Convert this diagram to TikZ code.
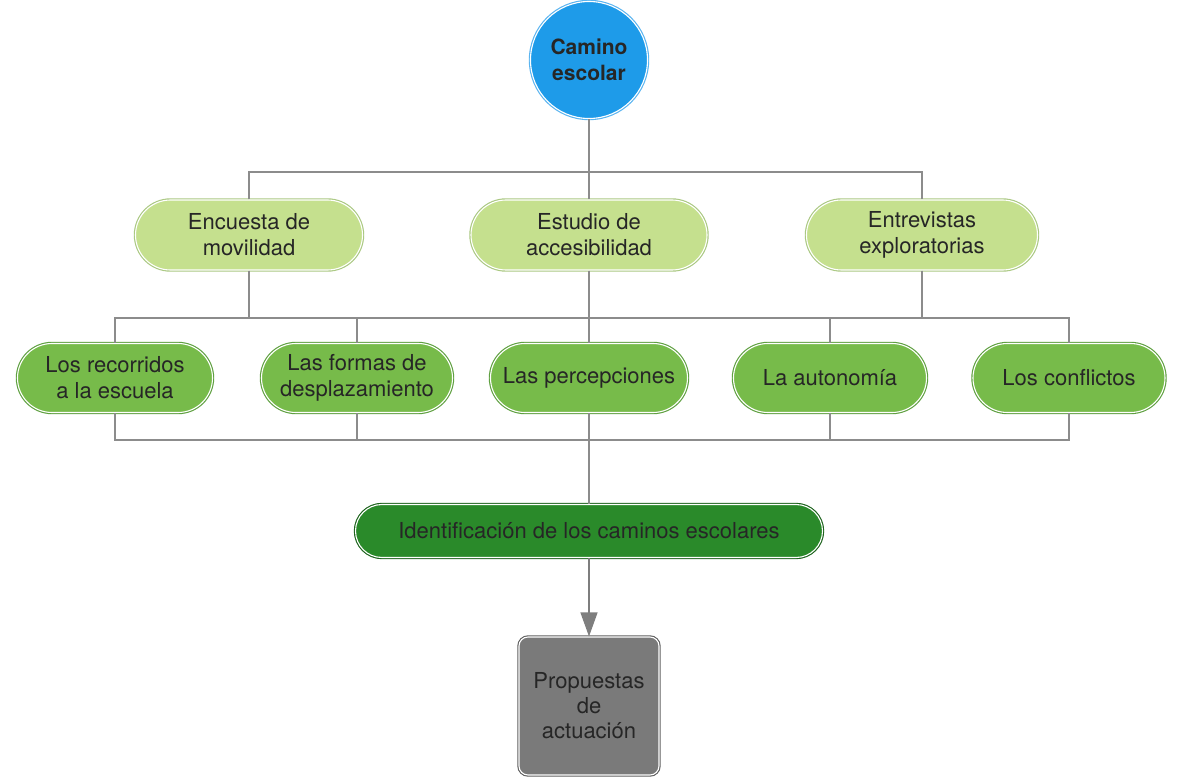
\documentclass[tikz,border=0pt]{standalone}
\usepackage{fontspec}
\setmainfont{TeX Gyre Heros}
\usetikzlibrary{shapes.misc,arrows.meta}

\definecolor{camblue}{RGB}{30,155,233}
\definecolor{camblueline}{RGB}{90,180,240}
\definecolor{lightgreen}{RGB}{197,224,142}
\definecolor{lightgreenline}{RGB}{170,200,130}
\definecolor{midgreen}{RGB}{119,187,74}
\definecolor{midgreenline}{RGB}{95,160,65}
\definecolor{darkgreen}{RGB}{42,138,42}
\definecolor{darkgreenline}{RGB}{30,100,30}
\definecolor{boxgray}{RGB}{122,122,122}
\definecolor{boxgrayline}{RGB}{95,95,95}
\definecolor{linkgray}{RGB}{140,140,140}

\tikzset{
  framed/.style={draw=white, line width=1.1pt, preaction={draw=#1, line width=3.4pt}},
  rootnode/.style={circle, fill=camblue, framed=camblueline, minimum size=117pt,
    inner sep=0pt, align=center, font=\fontsize{21}{26}\selectfont\bfseries, text=black!85},
  topicnode/.style={rounded rectangle, fill=lightgreen, framed=lightgreenline,
    minimum height=70pt, inner sep=0pt, align=center,
    font=\fontsize{22}{26}\selectfont, text=black!85},
  itemnode/.style={rounded rectangle, fill=midgreen, framed=midgreenline,
    minimum height=69pt, inner sep=0pt, align=center,
    font=\fontsize{22}{26}\selectfont, text=black!85},
  resultnode/.style={rounded rectangle, fill=darkgreen, framed=darkgreenline,
    minimum width=467pt, minimum height=53pt, inner sep=0pt,
    font=\fontsize{22}{26}\selectfont, text=black!85},
  proposalnode/.style={rectangle, rounded corners=9pt, fill=boxgray, framed=boxgrayline,
    minimum width=140pt, minimum height=138pt, inner sep=0pt, align=center,
    font=\fontsize{22}{25}\selectfont, text=black!85},
  link/.style={draw=linkgray, line width=1.3pt}
}

\begin{document}
\begin{tikzpicture}[x=1pt,y=1pt,yscale=-1,xscale=1]
\useasboundingbox (0,0) rectangle (1179,778);

% root
\node [rootnode] (camino) at (589,60) {Camino\\escolar};

% methods
\node [topicnode, minimum width=227pt] (encuesta) at (249,235) {Encuesta de\\movilidad};
\node [topicnode, minimum width=236pt] (estudio) at (589,235) {Estudio de\\accesibilidad};
\node [topicnode, minimum width=231pt] (entrevistas) at (922,235) {Entrevistas\\exploratorias};

% aspects
\node [itemnode, minimum width=195pt] (recorridos) at (115,378) {Los recorridos\\a la escuela};
\node [itemnode, minimum width=191pt] (formas) at (357,378) {Las formas de\\desplazamiento};
\node [itemnode, minimum width=197pt] (percepciones) at (589,378) {Las percepciones};
\node [itemnode, minimum width=193pt] (autonomia) at (830,378) {La autonomía};
\node [itemnode, minimum width=192pt] (conflictos) at (1069,378) {Los conflictos};

% result and proposals
\node [resultnode] (identificacion) at (589,531) {Identificación de los caminos escolares};
\node [proposalnode] (propuestas) at (589,706) {Propuestas\\de\\actuación};

% bus lines
\coordinate (busA) at (589,172);
\coordinate (busB) at (589,318);
\coordinate (busC) at (589,440);

\draw [link] (camino) -- (busA);
\draw [link] (encuesta.north) |- (busA) -| (entrevistas.north);
\draw [link] (busA) -- (estudio.north);

\draw [link] (encuesta.south) -- (encuesta |- busB);
\draw [link] (entrevistas.south) -- (entrevistas |- busB);
\draw [link] (estudio.south) -- (percepciones.north);
\draw [link] (recorridos.north) |- (busB) -| (conflictos.north);
\draw [link] (formas.north) -- (formas |- busB);
\draw [link] (autonomia.north) -- (autonomia |- busB);

\draw [link] (recorridos.south) |- (busC) -| (conflictos.south);
\draw [link] (formas.south) -- (formas |- busC);
\draw [link] (autonomia.south) -- (autonomia |- busC);
\draw [link] (percepciones.south) -- (identificacion.north);

\draw [link, -{Triangle[length=24pt,width=17pt]}, linkgray!90!black] (identificacion.south) -- (propuestas.north);
\end{tikzpicture}
\end{document}
